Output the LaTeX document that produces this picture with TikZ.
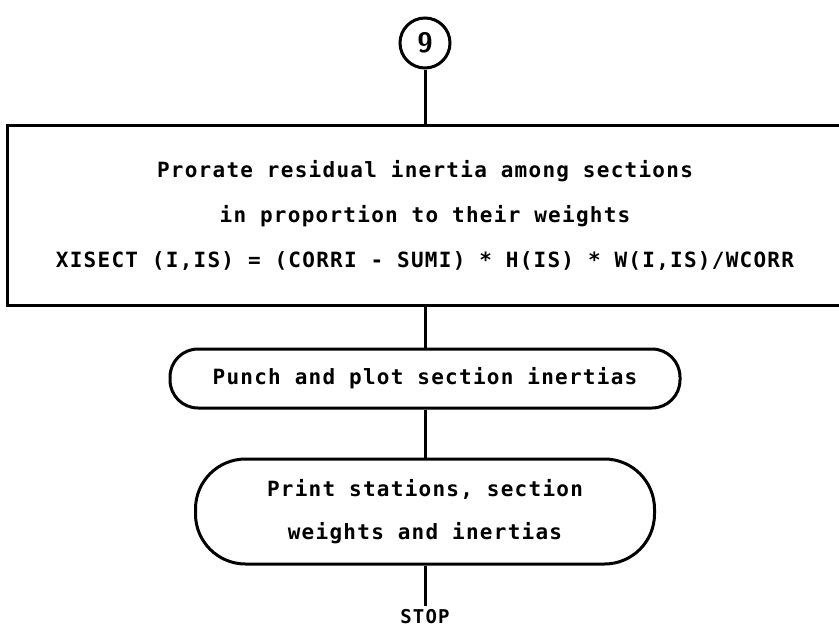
\documentclass[tikz,border=0pt]{standalone}
\usepackage{fontspec}
\newfontfamily\flowfont[LetterSpace=6]{DejaVu Sans Mono}
\usetikzlibrary{positioning}

\begin{document}
\begin{tikzpicture}[x=1pt,y=1pt]
  \tikzstyle{fc}=[
    draw, rectangle,
    line width=3pt,
    align=center,
    inner sep=0pt,
    font={\flowfont\bfseries\fontsize{21pt}{45pt}\selectfont}
  ]
  \tikzstyle{pc}=[fc,
    rounded corners=28pt
  ]
  \tikzstyle{line}=[line width=3pt]

  \useasboundingbox (0,0) rectangle (839,-629);

  \node[draw, circle, line width=3pt, minimum size=50pt, inner sep=0pt,
        font={\sffamily\bfseries\fontsize{28pt}{28pt}\selectfont}] (connector) at (425,-43) {9};
  \node[fc, minimum width=836pt, minimum height=180pt, below=54pt of connector] (prorate)
    {Prorate residual inertia among sections\\
     in proportion to their weights\\
     XISECT (I,IS) = (CORRI - SUMI) * H(IS) * W(I,IS)/WCORR};
  \node[pc, minimum width=510pt, minimum height=59pt, below=41pt of prorate] (punch)
    {Punch and plot section inertias};
  \node[pc, rounded corners=50pt, minimum width=459pt, minimum height=105pt,
        font={\flowfont\bfseries\fontsize{21pt}{43pt}\selectfont}, below=48pt of punch] (print)
    {Print stations, section\\weights and inertias};
  \coordinate[below=40pt of print] (stop end);
  \node[below=4pt of stop end, inner sep=0pt, font={\flowfont\bfseries\fontsize{19pt}{19pt}\selectfont}] (stop) {STOP};

  \draw[line] (connector) -- (prorate);
  \draw[line] (prorate) -- (punch);
  \draw[line] (punch) -- (print);
  \draw[line] (print) -- (stop end);
\end{tikzpicture}
\end{document}
